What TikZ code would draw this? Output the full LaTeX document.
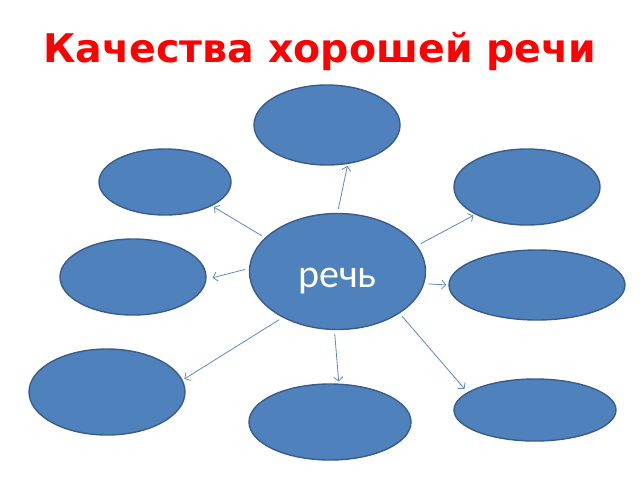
\documentclass[tikz,border=0pt]{standalone}
\usepackage{fontspec}
\setmainfont{Carlito}
\newfontfamily\titlefont{DejaVu Sans}
\usetikzlibrary{shapes.geometric,arrows.meta}
\definecolor{ovalfill}{HTML}{4F81BD}
\definecolor{ovaledge}{HTML}{385D8A}
\definecolor{linkcol}{HTML}{5B8BC6}
\tikzset{
    oval/.style={ellipse,draw=ovaledge,fill=ovalfill,line width=1.4pt,inner sep=0pt},
    link/.style={draw=linkcol,line width=0.8pt,-{Straight Barb[length=4pt,width=9pt]},shorten <=4pt,shorten >=2pt}
}
\begin{document}
\begin{tikzpicture}[x=1pt,y=-1pt]
            \useasboundingbox (0,0) rectangle (640,480);
            \node [text=red,font=\titlefont\bfseries\fontsize{39.5}{47}\selectfont,anchor=base] (title) at (320,62) {Качества хорошей речи};
            \node [oval,minimum width=176pt,minimum height=116pt,text=white,text height=31pt,text depth=0pt,font=\fontsize{40}{48}\selectfont] (rech) at (337.5,271.5) {речь};
            \node [oval,minimum width=146pt,minimum height=80pt] (k1) at (327,125) {};
            \node [oval,minimum width=132pt,minimum height=66pt] (k2) at (165,182) {};
            \node [oval,minimum width=146pt,minimum height=76pt] (k3) at (527,187) {};
            \node [oval,minimum width=146pt,minimum height=76pt] (k4) at (133,277) {};
            \node [oval,minimum width=176pt,minimum height=70pt] (k5) at (537,285) {};
            \node [oval,minimum width=156pt,minimum height=86pt] (k6) at (107,392) {};
            \node [oval,minimum width=162pt,minimum height=76pt] (k7) at (330,422) {};
            \node [oval,minimum width=162pt,minimum height=62pt] (k8) at (535,410) {};
            % arrows from the centre
            \draw [link] (rech.90) -- (k1.-62);
            \draw [link] (rech.155) -- (k2.-27);
            \draw [link] (rech.178) -- ([xshift=4pt]k4.-1);
            \draw [link] (rech.18) -- (k3.-152);
            \draw [link] (rech.-8) -- (k5.180);
            \draw [link] (rech.-140) -- (k6.9);
            \draw [link] (rech.-93) -- (k7.77);
            \draw [link] (rech.-34) -- ([xshift=-5pt]k8.163);
\end{tikzpicture}
\end{document}
